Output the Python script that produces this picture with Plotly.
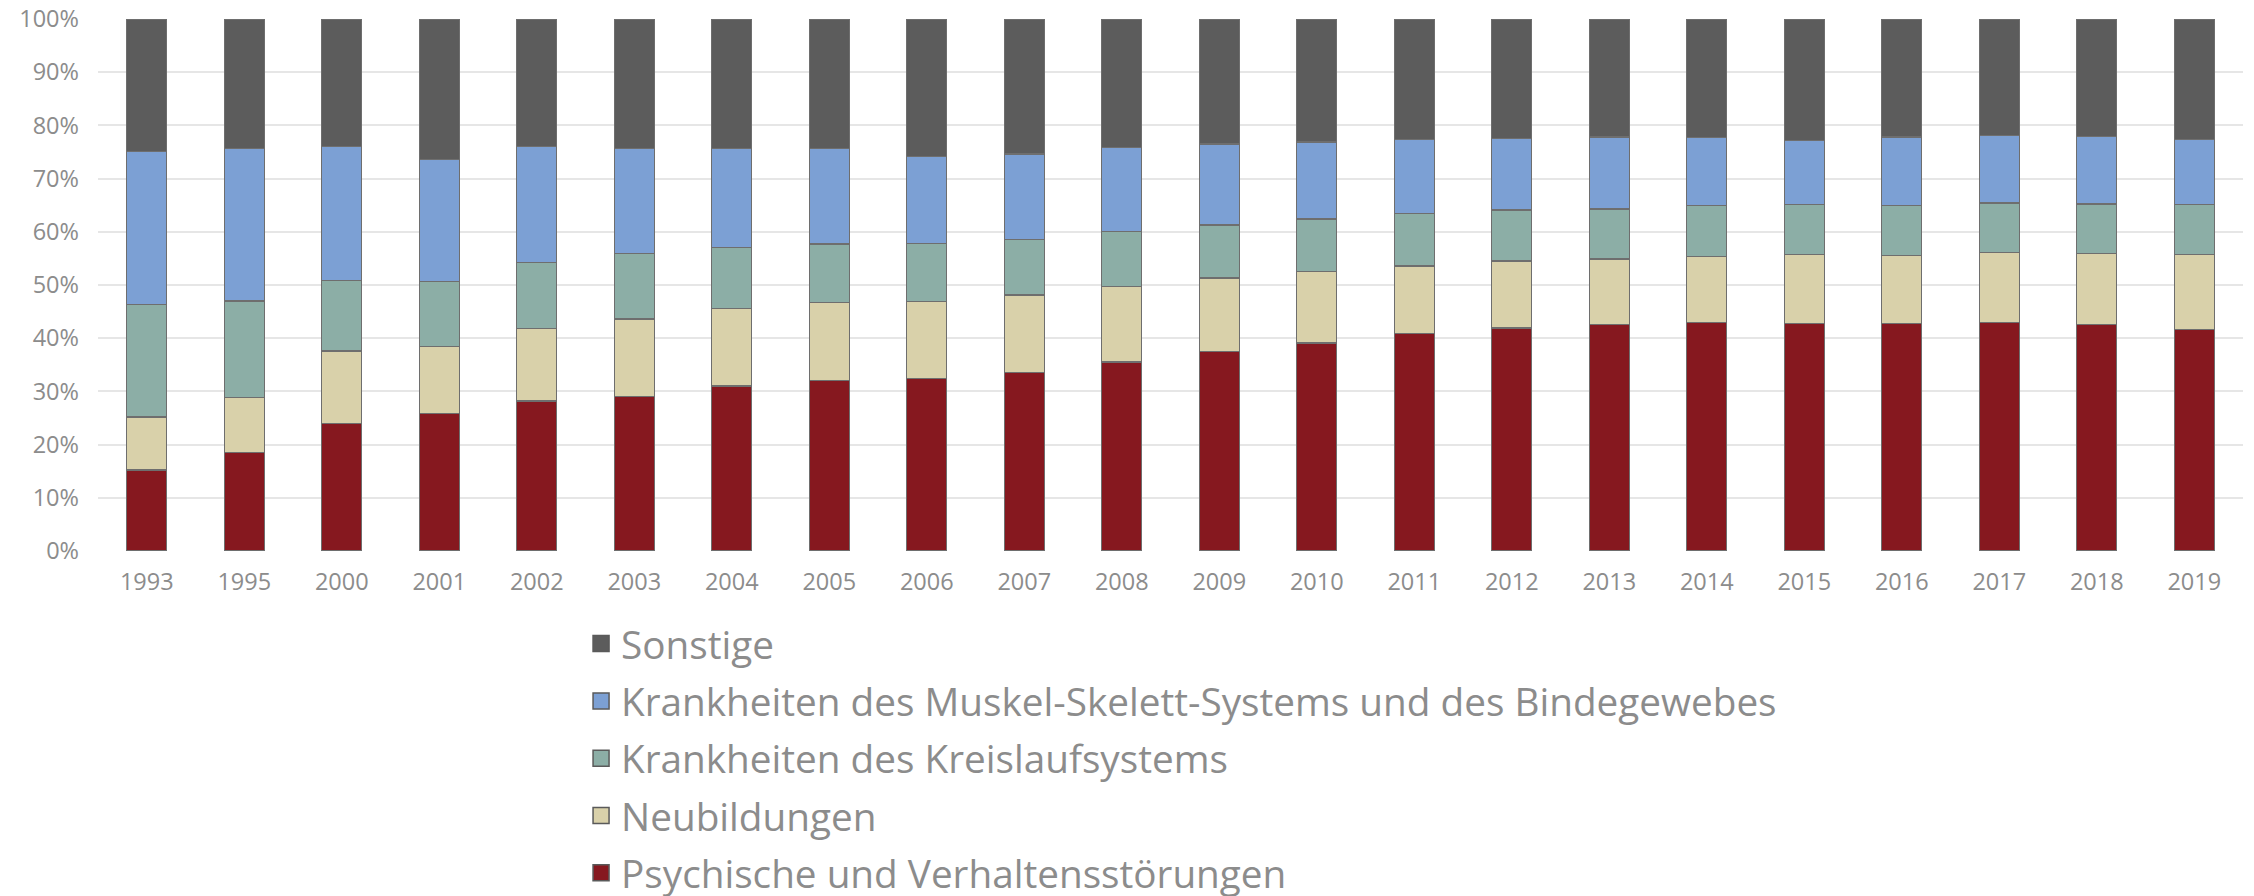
import plotly.graph_objects as go

years = ["1993", "1995", "2000", "2001", "2002", "2003", "2004", "2005", "2006", "2007", "2008",
         "2009", "2010", "2011", "2012", "2013", "2014", "2015", "2016", "2017", "2018", "2019"]

psychische = [15.2, 18.5, 24.0, 25.8, 28.2, 29.0, 31.0, 32.1, 32.4, 33.6, 35.5,
              37.5, 39.1, 40.9, 41.9, 42.6, 43.0, 42.8, 42.7, 42.9, 42.6, 41.6]
neubildungen = [10.0, 10.4, 13.6, 12.6, 13.6, 14.6, 14.6, 14.6, 14.5, 14.5, 14.2,
                13.8, 13.4, 12.7, 12.6, 12.3, 12.4, 12.9, 12.8, 13.2, 13.3, 14.1]
kreislauf = [21.2, 18.1, 13.3, 12.2, 12.4, 12.3, 11.4, 11.0, 10.9, 10.5, 10.4,
             10.0, 9.9, 9.8, 9.6, 9.4, 9.6, 9.4, 9.4, 9.3, 9.3, 9.4]
muskel = [28.7, 28.6, 25.2, 23.0, 21.9, 19.8, 18.6, 17.9, 16.4, 16.0, 15.8,
          15.2, 14.5, 14.0, 13.5, 13.5, 12.7, 12.1, 12.9, 12.7, 12.7, 12.3]
sonstige = [24.9, 24.4, 23.9, 26.4, 23.9, 24.3, 24.4, 24.4, 25.8, 25.4, 24.1,
            23.5, 23.1, 22.6, 22.4, 22.2, 22.3, 22.8, 22.2, 21.9, 22.1, 22.6]

names = ["Psychische und Verhaltensstörungen", "Neubildungen", "Krankheiten des Kreislaufsystems",
         "Krankheiten des Muskel-Skelett-Systems und des Bindegewebes", "Sonstige"]
series = [psychische, neubildungen, kreislauf, muskel, sonstige]
colors = ["#86181f", "#d9d1aa", "#8caea6", "#7ca0d4", "#5c5c5c"]
ytick_vals = list(range(0, 101, 10))
ytick_text = ["%d%%" % v for v in ytick_vals]

fig = go.Figure()
for name, vals, col in zip(names, series, colors):
    fig.add_trace(go.Bar(x=years, y=vals, name=name, showlegend=False,
                         marker=dict(color=col, line=dict(color="#6e6e6e", width=1.3)),
                         hoverinfo="x+y+name"))

# legend entries (larger square swatches), top to bottom
for i, (name, col) in enumerate(reversed(list(zip(names, colors)))):
    fig.add_trace(go.Scatter(x=[None], y=[None], mode="markers", name=name,
                             legendgroup="g%d" % i,
                             marker=dict(symbol="square", size=19, color=col,
                                         line=dict(color="#5a5a5a", width=1.5))))

fig.update_layout(
    width=2254, height=896,
    barmode="stack", bargap=0.59,
    plot_bgcolor="white", paper_bgcolor="white",
    margin=dict(l=98, r=11, t=19, b=345),
    font=dict(family="Open Sans", color="#8c8c8c"),
    legend=dict(x=0.2252, xanchor="left", xref="paper",
                y=0.317, yanchor="top", yref="container",
                traceorder="grouped", tracegroupgap=4,
                font=dict(size=38.7, color="#8c8c8c"), bgcolor="rgba(0,0,0,0)"),
    xaxis=dict(type="category", showgrid=False, showline=False, zeroline=False,
               automargin=False,
               tickfont=dict(size=23.5, color="#8c8c8c"), ticks="", ticklabelstandoff=14),
    yaxis=dict(range=[0, 100], tickvals=ytick_vals, ticktext=ytick_text, showgrid=True,
               gridcolor="#e6e6e6", gridwidth=1.5, zeroline=False, showline=False,
               automargin=False, ticklabeloverflow="allow",
               tickfont=dict(size=23.5, color="#8c8c8c"), ticks="", ticklabelstandoff=18),
)

fig.write_html("out.html", config={"displayModeBar": False},
               post_script="document.body.style.margin='0';document.body.style.overflow='hidden';")
